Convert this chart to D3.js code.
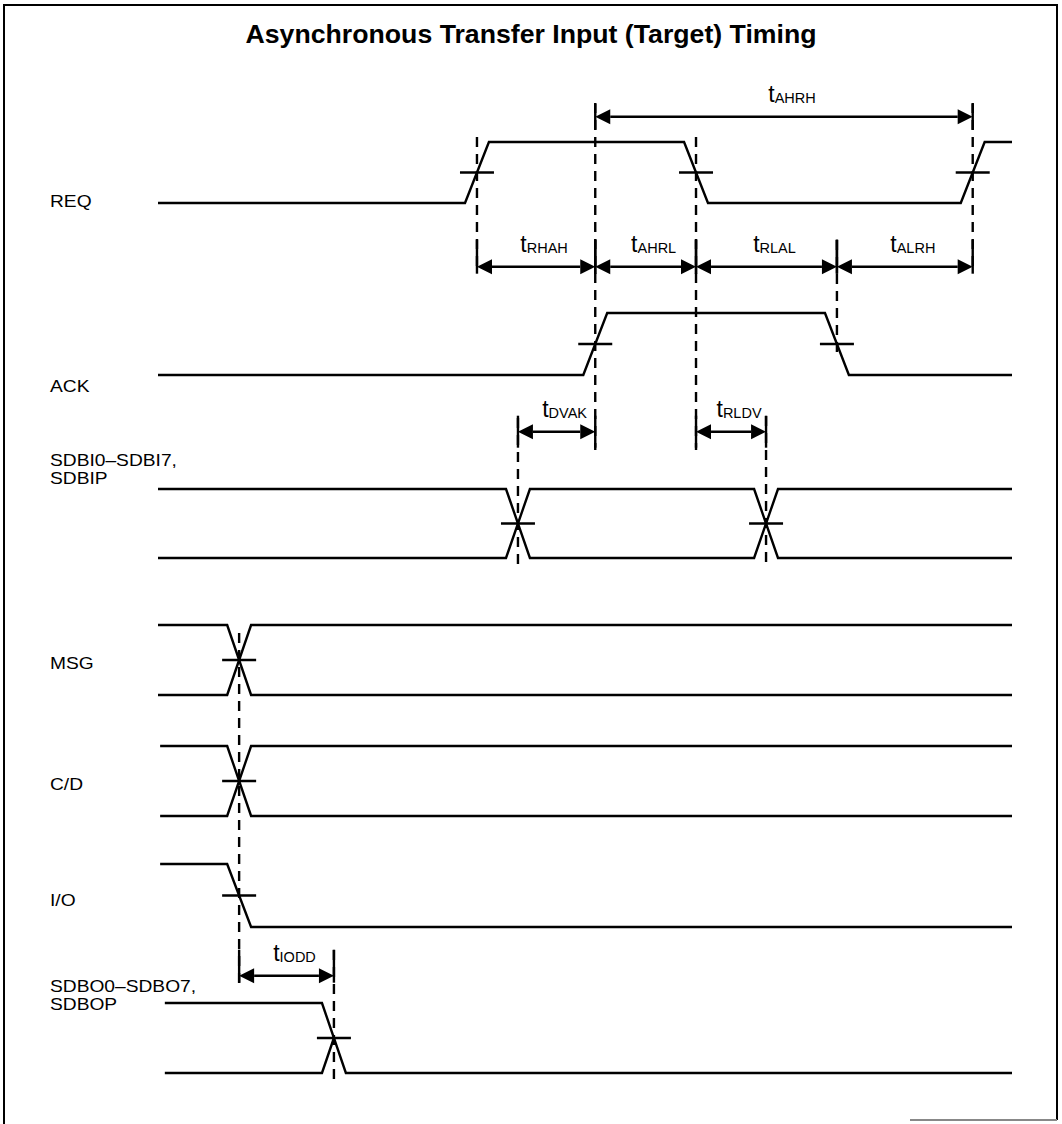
<!DOCTYPE html>
<html><head><meta charset="utf-8">
<script src="https://cdn.jsdelivr.net/npm/d3@7/dist/d3.min.js"></script>
<style>body{margin:0;background:#fff}</style></head>
<body><svg id="c" width="1062" height="1124"></svg>
<script>
// ---------------- data ----------------
const title = "Asynchronous Transfer Input (Target) Timing";
const signalNames = [["REQ"], ["ACK"], ["SDBI0–SDBI7,", "SDBIP"], ["MSG"], ["C/D"], ["I/O"], ["SDBO0–SDBO7,", "SDBOP"]];
const signalKinds = ["level", "level", "bus", "bus", "bus", "level", "busToLow"];
const initialLevels = [0, 0, null, null, null, 1, null];
const edgeTimes = [[37.35, 63.0, 95.4], [51.2, 79.5], [42.15, 71.2], [9.5], [9.5], [9.5], [20.6]];
const timingNames = ["AHRH", "RHAH", "AHRL", "RLAL", "ALRH", "DVAK", "RLDV", "IODD"];
const timingFrom = [51.2, 37.35, 51.2, 63.0, 79.5, 42.15, 63.0, 9.5];
const timingTo   = [95.4, 51.2, 63.0, 79.5, 95.4, 51.2, 71.2, 20.6];
const timingRow  = [0, 1, 1, 1, 1, 2, 2, 3];
const guideTimes = [37.35, 51.2, 63.0, 79.5, 95.4, 42.15, 71.2, 9.5, 20.6];

// ---------------- layout ----------------
const svg = d3.select("#c");
const x = d3.scaleLinear().domain([0, 100]).range([158, 1012]);
const laneHigh = [142, 313, 489, 625, 746, 864, 1003];
const laneLow  = [203, 375, 558, 695, 816, 927, 1073];
const laneStart = [0, 0, 0, 0, 0.25, 0.25, 0.8];
const laneEnd = 100;
const labelBaselines = [[207], [392], [466, 484], [669], [790], [906], [992, 1010]];
const arrowY = [116.7, 266.7, 431.7, 975.7];
const barExt = [[-13, 13], [-27, 7], [-16, 16], [-26, 7]];
const guideExt = [[137, 273], [103, 450], [137, 450], [240, 353], [103, 273], [418, 567], [416, 567], [633, 983], [950, 1080]];
const halfT = 1.4; // half transition width in time units
const SW = 2.4;

// frame (left, top, right, partial bottom)
const frame = svg.append("g").attr("stroke", "#000").attr("stroke-width", 2);
frame.append("line").attr("x1", 4).attr("x2", 4).attr("y1", 4).attr("y2", 1124);
frame.append("line").attr("x1", 4).attr("x2", 1057).attr("y1", 5).attr("y2", 5);
frame.append("line").attr("x1", 1057).attr("x2", 1057).attr("y1", 4).attr("y2", 1120);
frame.append("line").attr("x1", 910).attr("x2", 1057).attr("y1", 1120).attr("y2", 1120).attr("stroke", "#888");

svg.append("text").attr("x", 531).attr("y", 43).attr("text-anchor", "middle")
  .attr("font-family", "'Liberation Sans Narrow','Liberation Sans',Arial,sans-serif")
  .attr("font-weight", "bold").attr("font-size", 25)
  .attr("textLength", 571).attr("lengthAdjust", "spacingAndGlyphs")
  .text(title);

// signal labels
signalNames.forEach((lines, i) => {
  lines.forEach((s, j) => {
    svg.append("text")
      .attr("transform", `translate(50,${labelBaselines[i][j]}) scale(1.2,1)`)
      .attr("font-family", "'Liberation Sans',Arial,sans-serif").attr("font-size", 16)
      .text(s);
  });
});

const line = d3.line().x(d => x(d[0])).y(d => d[1]);
const wave = svg.append("g").attr("fill", "none").attr("stroke", "#000")
  .attr("stroke-width", SW).attr("stroke-linejoin", "miter");
const ticks = [];

signalKinds.forEach((kind, i) => {
  const hi = laneHigh[i], lo = laneLow[i], mid = (hi + lo) / 2;
  const t0 = laneStart[i];
  const edges = edgeTimes[i];
  if (kind === "level") {
    let lvl = initialLevels[i];
    const pts = [[t0, lvl ? hi : lo]];
    edges.forEach(t => {
      pts.push([t - halfT, lvl ? hi : lo]);
      lvl = 1 - lvl;
      pts.push([t + halfT, lvl ? hi : lo]);
      ticks.push([t, mid]);
    });
    pts.push([laneEnd, lvl ? hi : lo]);
    wave.append("path").attr("d", line(pts));
  } else if (kind === "bus") {
    let a = [[t0, hi]], b = [[t0, lo]];
    let cur = 0;
    edges.forEach(t => {
      a.push([t - halfT, cur ? lo : hi]); b.push([t - halfT, cur ? hi : lo]);
      cur = 1 - cur;
      a.push([t + halfT, cur ? lo : hi]); b.push([t + halfT, cur ? hi : lo]);
      ticks.push([t, mid]);
    });
    a.push([laneEnd, cur ? lo : hi]); b.push([laneEnd, cur ? hi : lo]);
    wave.append("path").attr("d", line(a));
    wave.append("path").attr("d", line(b));
  } else {
    const t = edges[0];
    wave.append("path").attr("d", line([[t0, hi], [t - halfT, hi], [t + halfT, lo], [laneEnd, lo]]));
    wave.append("path").attr("d", line([[t0, lo], [t - halfT, lo], [t, mid]]));
    ticks.push([t, mid]);
  }
});

// crossing ticks
wave.selectAll(".tick").data(ticks).join("line")
  .attr("x1", d => x(d[0]) - 17).attr("x2", d => x(d[0]) + 17)
  .attr("y1", d => d[1]).attr("y2", d => d[1]);

// dashed guides
svg.append("g").selectAll("line").data(guideTimes).join("line")
  .attr("x1", d => x(d)).attr("x2", d => x(d))
  .attr("y1", (d, i) => guideExt[i][0]).attr("y2", (d, i) => guideExt[i][1])
  .attr("stroke", "#000").attr("stroke-width", SW).attr("stroke-dasharray", "10,7");

// timing arrows
const ag = svg.append("g");
const L = 15, H = 7.5;
timingNames.forEach((name, i) => {
  const x1 = x(timingFrom[i]), x2 = x(timingTo[i]), y = arrowY[timingRow[i]];
  const be = barExt[timingRow[i]];
  [x1, x2].forEach(xx => ag.append("line").attr("x1", xx).attr("x2", xx)
    .attr("y1", y + be[0]).attr("y2", y + be[1]).attr("stroke", "#000").attr("stroke-width", SW));
  ag.append("line").attr("x1", x1 + L).attr("x2", x2 - L).attr("y1", y).attr("y2", y)
    .attr("stroke", "#000").attr("stroke-width", SW);
  ag.append("path").attr("d", `M${x1},${y}L${x1 + L},${y - H}L${x1 + L},${y + H}Z`);
  ag.append("path").attr("d", `M${x2},${y}L${x2 - L},${y - H}L${x2 - L},${y + H}Z`);
  const t = ag.append("text").attr("x", (x1 + x2) / 2 + 8).attr("y", y - 15)
    .attr("text-anchor", "middle").attr("font-family", "'Liberation Sans',Arial,sans-serif");
  t.append("tspan").attr("font-size", 23).text("t");
  t.append("tspan").attr("font-size", 14.5).attr("dy", 1.5).text(name);
});
</script></body></html>
